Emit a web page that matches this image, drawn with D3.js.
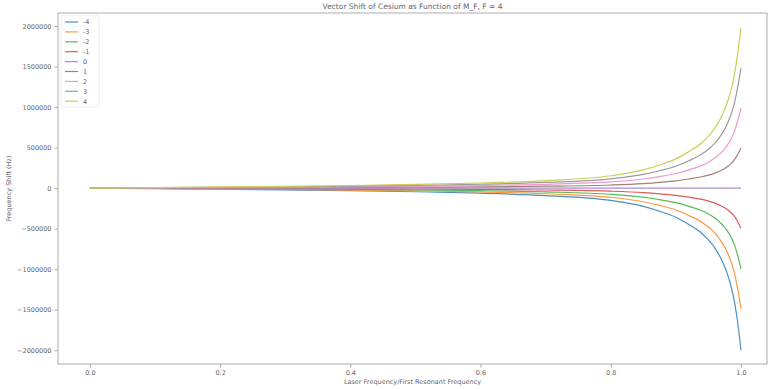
<!DOCTYPE html>
<html>
<head>
<meta charset="utf-8">
<script src="https://cdn.jsdelivr.net/npm/d3@7"></script>
<style>
  html, body { margin: 0; padding: 0; background: #fff; }
  svg { display: block; font-family: "DejaVu Sans", sans-serif; }
</style>
</head>
<body>
<svg id="chart" width="772" height="389"></svg>
<script>
// Laser frequency as a fraction of the first resonant frequency
const xValues = [0, 0.1, 0.2, 0.3, 0.4, 0.5, 0.6, 0.7, 0.8, 0.85, 0.875, 0.9, 0.92, 0.94, 0.95, 0.96, 0.97, 0.975, 0.98, 0.985, 0.99, 0.993, 0.996, 1.0];

// Frequency shift (Hz) for each magnetic sublevel m_F
const labels = ["-4", "-3", "-2", "-1", "0", "1", "2", "3", "4"];
const shiftM4n = [0, -7000, -14000, -22000, -32000, -45000, -63000, -93000, -152000, -225000, -285000, -360000, -450000, -560000, -640000, -740000, -880000, -970000, -1080000, -1220000, -1400000, -1550000, -1720000, -2000000];
const shiftM3n = [0, -5250, -10500, -16500, -24000, -33750, -47250, -69750, -114000, -168750, -213750, -270000, -337500, -420000, -480000, -555000, -660000, -727500, -810000, -915000, -1050000, -1162500, -1290000, -1490000];
const shiftM2n = [0, -3500, -7000, -11000, -16000, -22500, -31500, -46500, -76000, -112500, -142500, -180000, -225000, -280000, -320000, -370000, -440000, -485000, -540000, -610000, -700000, -775000, -860000, -995000];
const shiftM1n = [0, -1750, -3500, -5500, -8000, -11250, -15750, -23250, -38000, -56250, -71250, -90000, -112500, -140000, -160000, -185000, -220000, -242500, -270000, -305000, -350000, -387500, -430000, -495000];
const shiftM0 = [0, 0, 0, 0, 0, 0, 0, 0, 0, 0, 0, 0, 0, 0, 0, 0, 0, 0, 0, 0, 0, 0, 0, 0];
const shiftM1 = [0, 1750, 3500, 5500, 8000, 11250, 15750, 23250, 38000, 56250, 71250, 90000, 112500, 140000, 160000, 185000, 220000, 242500, 270000, 305000, 350000, 387500, 430000, 495000];
const shiftM2 = [0, 3500, 7000, 11000, 16000, 22500, 31500, 46500, 76000, 112500, 142500, 180000, 225000, 280000, 320000, 370000, 440000, 485000, 540000, 610000, 700000, 775000, 860000, 985000];
const shiftM3 = [0, 5250, 10500, 16500, 24000, 33750, 47250, 69750, 114000, 168750, 213750, 270000, 337500, 420000, 480000, 555000, 660000, 727500, 810000, 915000, 1050000, 1162500, 1290000, 1480000];
const shiftM4 = [0, 7000, 14000, 22000, 32000, 45000, 63000, 93000, 152000, 225000, 285000, 360000, 450000, 560000, 640000, 740000, 880000, 970000, 1080000, 1220000, 1400000, 1550000, 1720000, 1970000];
const seriesValues = [shiftM4n, shiftM3n, shiftM2n, shiftM1n, shiftM0, shiftM1, shiftM2, shiftM3, shiftM4];

const xTicks = [0.0, 0.2, 0.4, 0.6, 0.8, 1.0];
const yTicks = [-2000000, -1500000, -1000000, -500000, 0, 500000, 1000000, 1500000, 2000000];

const colors = ["#4a90c4", "#ff9a45", "#5ab85a", "#de5a5b", "#ab8cd0", "#a37f76", "#eb9ad2", "#9a9a9a", "#cdce55"];

const svg = d3.select("#chart");
const plot = { left: 58, right: 767, top: 13, bottom: 364 };

const x = d3.scaleLinear().domain([-0.049, 1.04]).range([plot.left, plot.right]);
const y = d3.scaleLinear().domain([-2170000, 2160000]).range([plot.bottom, plot.top]);

const textColor = "#666";
const axisColor = "#999";

// Curves
const line = d3.line()
  .x((d, i) => x(xValues[i]))
  .y(d => y(d))
  .curve(d3.curveMonotoneX);

svg.append("g").selectAll("path")
  .data(seriesValues)
  .join("path")
  .attr("d", d => line(d))
  .attr("fill", "none")
  .attr("stroke", (d, i) => colors[i])
  .attr("stroke-width", 1.2);

// Axes
const minus = s => s.replace("-", "\u2212");
const xAxis = d3.axisBottom(x).tickValues(xTicks).tickFormat(d3.format(".1f")).tickSize(3.5).tickPadding(3);
const yAxis = d3.axisLeft(y).tickValues(yTicks).tickFormat(d => minus(String(d))).tickSize(3.5).tickPadding(3);

const gx = svg.append("g").attr("transform", `translate(0,${plot.bottom})`).call(xAxis);
const gy = svg.append("g").attr("transform", `translate(${plot.left},0)`).call(yAxis);
[gx, gy].forEach(g => {
  g.select(".domain").remove();
  g.selectAll(".tick line").attr("stroke", axisColor).attr("stroke-width", 0.8);
  g.selectAll(".tick text").attr("fill", textColor).style("font-size", "6.5px").style("font-family", "DejaVu Sans, sans-serif");
});

// Frame
svg.append("rect")
  .attr("x", plot.left).attr("y", plot.top)
  .attr("width", plot.right - plot.left).attr("height", plot.bottom - plot.top)
  .attr("fill", "none").attr("stroke", axisColor).attr("stroke-width", 0.8);

// Titles
svg.append("text")
  .attr("x", (plot.left + plot.right) / 2).attr("y", 9)
  .attr("text-anchor", "middle").attr("fill", textColor)
  .style("font-size", "7.5px")
  .text("Vector Shift of Cesium as Function of M_F, F = 4");

svg.append("text")
  .attr("x", (plot.left + plot.right) / 2).attr("y", 384)
  .attr("text-anchor", "middle").attr("fill", textColor)
  .style("font-size", "6.5px")
  .text("Laser Frequency/First Resonant Frequency");

svg.append("text")
  .attr("transform", `translate(11,${(plot.top + plot.bottom) / 2}) rotate(-90)`)
  .attr("text-anchor", "middle").attr("fill", textColor)
  .style("font-size", "6.5px")
  .text("Frequency Shift (Hz)");

// Legend
const legend = svg.append("g");
legend.append("rect")
  .attr("x", 61).attr("y", 15).attr("width", 38).attr("height", 92)
  .attr("rx", 2).attr("fill", "#fff").attr("fill-opacity", 0.8)
  .attr("stroke", "#e8e8e8").attr("stroke-width", 0.8);
const rows = legend.selectAll("g.row").data(labels).join("g")
  .attr("class", "row")
  .attr("transform", (d, i) => `translate(0,${22 + i * 9.9})`);
rows.append("line")
  .attr("x1", 65).attr("x2", 78).attr("y1", 0).attr("y2", 0)
  .attr("stroke", (d, i) => colors[i]).attr("stroke-width", 1.2);
rows.append("text")
  .attr("x", 83).attr("y", 2.3)
  .attr("fill", textColor).style("font-size", "6.5px")
  .text(d => d);
</script>
</body>
</html>
